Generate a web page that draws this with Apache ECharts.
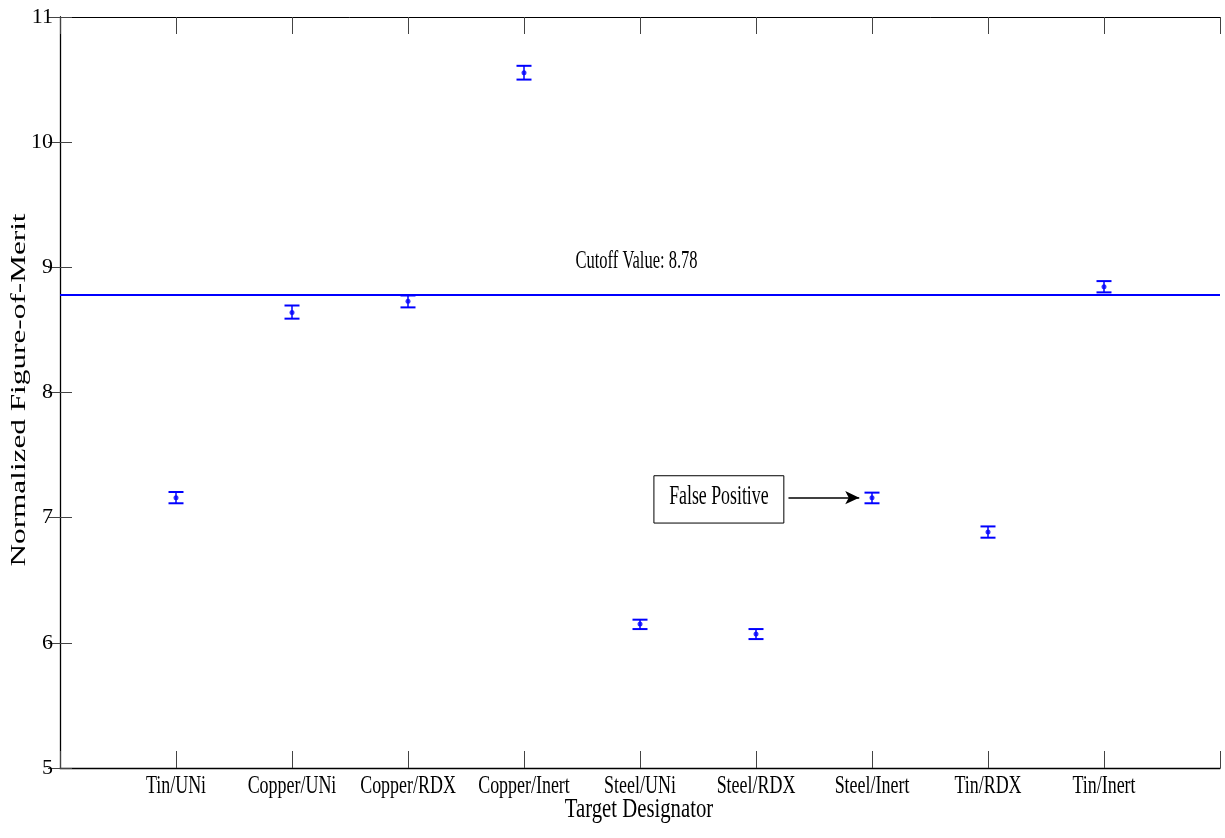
<!DOCTYPE html>
<html>
<head>
<meta charset="utf-8">
<script src="https://cdn.jsdelivr.net/npm/echarts@6/dist/echarts.min.js"></script>
<style>
  html, body { margin: 0; padding: 0; background: #fff; }
  #main { width: 1225px; height: 838px; }
</style>
</head>
<body>
<div id="main"></div>
<script>
// data
var categories = ['Tin/UNi', 'Copper/UNi', 'Copper/RDX', 'Copper/Inert', 'Steel/UNi', 'Steel/RDX', 'Steel/Inert', 'Tin/RDX', 'Tin/Inert'];
var fomMean  = [7.16, 8.64, 8.73, 10.555, 6.15, 6.07, 7.16, 6.885, 8.845];
var fomUpper = [7.205, 8.695, 8.775, 10.61, 6.185, 6.11, 7.20, 6.93, 8.89];
var fomLower = [7.115, 8.59, 8.68, 10.50, 6.11, 6.03, 7.115, 6.84, 8.80];
var cutoffValue = 8.78;
var yTicks = [5, 6, 7, 8, 9, 10, 11];

// annotations (data coordinates)
var cutoffLabel = 'Cutoff Value: ' + cutoffValue;
var cutoffLabelAt = [4.97, 9.05];
var falsePosLabel = 'False Positive';
var falsePosBox = [[5.12, 7.335], [6.24, 6.957]];
var falsePosArrow = [[6.28, 7.16], [6.89, 7.16]];

var serif = '"Liberation Serif", "Times New Roman", serif';
var blue = '#0000ff';
var yMin = yTicks[0], yMax = yTicks[yTicks.length - 1];

var chart = echarts.init(document.getElementById('main'));

var xPoints = categories.map(function (c, i) { return i + 1; });

// the original text is a tall, narrow Times; squeeze it horizontally
function narrowText(x, y, text, size, sx) {
  return {
    type: 'text', x: x, y: y, scaleX: sx,
    style: { text: text, font: size + 'px ' + serif, fill: '#000', align: 'center', verticalAlign: 'middle' }
  };
}

var option = {
  animation: false,
  backgroundColor: '#fff',
  grid: { left: 60, right: 5, top: 17, bottom: 70, containLabel: false },
  xAxis: [
    {
      type: 'value', min: 0, max: 10, interval: 1, position: 'bottom',
      axisLine: { show: true, lineStyle: { color: '#000', width: 1.3 } },
      axisTick: { show: true, inside: true, length: 17, lineStyle: { color: '#444' } },
      axisLabel: { show: false },
      splitLine: { show: false }
    },
    {
      type: 'value', min: 0, max: 10, interval: 1, position: 'top',
      axisLine: { show: true, lineStyle: { color: '#000', width: 1 } },
      axisTick: { show: true, inside: true, length: 17, lineStyle: { color: '#444' } },
      axisLabel: { show: false },
      splitLine: { show: false }
    }
  ],
  yAxis: [
    {
      type: 'value', min: yMin, max: yMax, interval: 1, position: 'left',
      axisLine: { show: true, lineStyle: { color: '#000', width: 1 } },
      axisTick: { show: true, inside: true, length: 12, lineStyle: { color: '#444' } },
      axisLabel: { fontFamily: serif, fontSize: 22, color: '#000', margin: 7 },
      splitLine: { show: false }
    },
    {
      type: 'value', min: yMin, max: yMax, interval: 1, position: 'right',
      axisLine: { show: true, lineStyle: { color: '#000', width: 1.3 } },
      axisTick: { show: true, inside: true, length: 12, lineStyle: { color: '#444' } },
      axisLabel: { show: false },
      splitLine: { show: false }
    }
  ],
  graphic: [
    {
      type: 'text', x: 19, y: 390, rotation: Math.PI / 2, scaleX: 1.42,
      style: {
        text: 'Normalized Figure-of-Merit', font: '22px ' + serif,
        fill: '#000', align: 'center', verticalAlign: 'middle'
      }
    },
    narrowText(639, 810, 'Target Designator', 28, 0.74)
  ],
  series: [
    {
      // category names under the bottom axis
      type: 'custom',
      xAxisIndex: 0, yAxisIndex: 0,
      silent: true,
      data: xPoints.map(function (x) { return [x, yMin]; }),
      renderItem: function (params, api) {
        var p = api.coord([api.value(0), api.value(1)]);
        return narrowText(p[0], p[1] + 18, categories[params.dataIndex], 26, 0.69);
      }
    },
    {
      // error bars
      type: 'custom',
      xAxisIndex: 0, yAxisIndex: 0,
      data: xPoints.map(function (x, i) { return [x, fomLower[i], fomUpper[i]]; }),
      renderItem: function (params, api) {
        var lo = api.coord([api.value(0), api.value(1)]);
        var hi = api.coord([api.value(0), api.value(2)]);
        var hw = 7.5;
        var stem = { stroke: blue, lineWidth: 1.5 };
        var cap = { stroke: blue, lineWidth: 2 };
        return {
          type: 'group',
          children: [
            { type: 'line', shape: { x1: lo[0], y1: lo[1], x2: hi[0], y2: hi[1] }, style: stem },
            { type: 'line', shape: { x1: lo[0] - hw, y1: lo[1], x2: lo[0] + hw, y2: lo[1] }, style: cap },
            { type: 'line', shape: { x1: hi[0] - hw, y1: hi[1], x2: hi[0] + hw, y2: hi[1] }, style: cap }
          ]
        };
      },
      z: 3
    },
    {
      type: 'scatter',
      xAxisIndex: 0, yAxisIndex: 0,
      data: xPoints.map(function (x, i) { return [x, fomMean[i]]; }),
      symbol: 'circle', symbolSize: 5,
      itemStyle: { color: blue },
      z: 4,
      markLine: {
        silent: true, symbol: 'none',
        lineStyle: { color: blue, width: 2, type: 'solid' },
        label: { show: false },
        data: [{ yAxis: cutoffValue }]
      }
    },
    {
      // annotation texts
      type: 'custom',
      xAxisIndex: 0, yAxisIndex: 0,
      silent: true,
      data: [
        cutoffLabelAt,
        [(falsePosBox[0][0] + falsePosBox[1][0]) / 2, (falsePosBox[0][1] + falsePosBox[1][1]) / 2]
      ],
      renderItem: function (params, api) {
        var p = api.coord([api.value(0), api.value(1)]);
        if (params.dataIndex === 0) return narrowText(p[0], p[1], cutoffLabel, 25, 0.66);
        return narrowText(p[0], p[1] - 2, falsePosLabel, 27, 0.66);
      }
    },
    {
      type: 'line',
      xAxisIndex: 0, yAxisIndex: 0,
      data: [],
      markLine: {
        silent: true,
        symbol: ['none', 'arrow'], symbolSize: [10, 14],
        lineStyle: { color: '#000', width: 1.5, type: 'solid' },
        label: { show: false },
        data: [[{ coord: falsePosArrow[0] }, { coord: falsePosArrow[1] }]]
      },
      markArea: {
        silent: true,
        itemStyle: { color: 'rgba(0,0,0,0)', borderColor: '#000', borderWidth: 1 },
        label: { show: false },
        data: [[{ coord: falsePosBox[0] }, { coord: falsePosBox[1] }]]
      }
    }
  ]
};

chart.setOption(option);
</script>
</body>
</html>
